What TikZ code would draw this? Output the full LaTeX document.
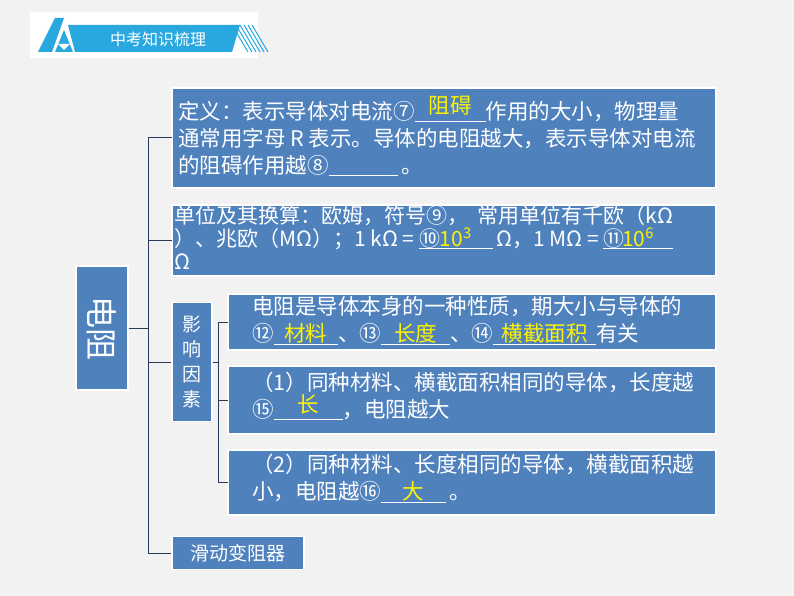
\documentclass[tikz,border=0pt]{standalone}
\usepackage{fontspec}
\setmainfont{Noto Sans CJK SC}
\newcommand{\ans}[2]{\underline{\makebox[#2]{\textcolor{yellow}{#1}}}}
\begin{document}
\begin{tikzpicture}[x=1pt,y=-1pt,
 bx/.style={draw=white,line width=1.2pt,fill={rgb,255:red,79;green,129;blue,189}},
 tx/.style={anchor=north west,align=left,text=white,font=\fontsize{21.5}{27}\selectfont,inner sep=0pt},
 ln/.style={draw={rgb,255:red,40;green,60;blue,90},line width=1pt}]
\fill[gray!10] (0,0) rectangle (794,596);
\useasboundingbox (0,0) rectangle (794,596);
% header
\fill[white] (30,12) rectangle (258,58);
\definecolor{hb}{RGB}{41,168,224}
\fill[hb] (68,25) -- (240,25) -- (232,52) -- (75,52) -- cycle;
\fill[hb] (38,52) -- (55,18) -- (64,18) -- (52,52) -- cycle;
\fill[hb] (55,52) -- (64,30) -- (73,52) -- cycle;
\fill[white] (58,44) -- (70,44) -- (64,50) -- cycle;
\foreach \i in {0,...,5} \draw[hb,line width=1pt] (232+\i*4,25) -- (248+\i*4,52);
\node[text=white,font=\fontsize{16}{17}\selectfont] (hd) at (158,39) {中考知识梳理};
% boxes
\node[bx,minimum width=52,minimum height=124,inner sep=0] (root) at (102,328) {};
\node[text=white,rotate=-90,font=\fontsize{32}{34}\selectfont] at (root) {电阻};
\draw[bx] (172,88) rectangle (716,188); \coordinate (b1) at (172,138);
\node[tx] at (178,96) {定义：表示导体对电流⑦\ans{\raisebox{.5ex}{阻碍}}{3.3em}作用的大小，物理量\\通常用字母 \textit{R} 表示。导体的电阻越大，表示导体对电流\\的阻碍作用越⑧\underline{\hspace{3.2em}}\,。};
\draw[bx] (172,205) rectangle (716,276); \coordinate (b2) at (172,240);
\node[tx,font=\fontsize{21}{23}\selectfont] at (174,205) {单位及其换算：欧姆，符号⑨，\ \ 常用单位有千欧（kΩ\\）、兆欧（MΩ）；1 kΩ = ⑩\hspace{-1em}\ans{10\textsuperscript{3}}{3.5em}\,Ω，1 MΩ = ⑪\hspace{-1em}\ans{10\textsuperscript{6}}{3.3em}\\Ω};
\node[bx,minimum width=40,minimum height=119,inner sep=0] (yx) at (192,362) {};
\node[text=white,align=center,font=\fontsize{19}{25}\selectfont] at (yx) {影\\响\\因\\素};
\draw[bx] (228,294) rectangle (716,350); \coordinate (c1) at (228,322);
\node[tx] at (252,296) {电阻是导体本身的一种性质，期大小与导体的\\⑫\ans{材料}{3em}、⑬\ans{长度}{3.2em}、⑭\ans{横截面积}{4.8em}有关};
\draw[bx] (228,366) rectangle (716,434); \coordinate (c2) at (228,400);
\node[tx] at (252,372) {（1）同种材料、横截面积相同的导体，长度越\\⑮\ans{\raisebox{.4ex}{长}}{3.2em}，电阻越大};
\draw[bx] (228,450) rectangle (716,515); \coordinate (c3) at (228,482);
\node[tx] at (252,454) {（2）同种材料、长度相同的导体，横截面积越\\小，电阻越⑯\ans{大}{3em}\,。};
\node[bx,minimum width=132,minimum height=33,inner sep=0,text=white,font=\fontsize{19}{21}\selectfont] (hd2) at (238,553) {滑动变阻器};
% connectors
\draw[ln] (root.east) -- (148,328);
\draw[ln] (172,138) -| (148,553) -- (hd2.west);
\draw[ln] (148,240) -- (b2);
\draw[ln] (148,362) -- (yx.west);
\draw[ln] (yx.east) -- (218,362);
\draw[ln] (228,322) -- (218,322) -- (218,482) -- (c3);
\draw[ln] (218,400) -- (c2);
\end{tikzpicture}
\end{document}
